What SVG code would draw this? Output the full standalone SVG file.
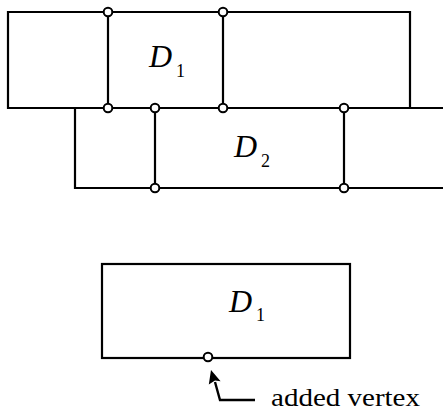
<svg xmlns="http://www.w3.org/2000/svg" width="443" height="410" viewBox="0 0 443 410">
<rect width="443" height="410" fill="#fff"/>
<g id="connectors" fill="none" stroke="#000" stroke-width="2.2" stroke-linecap="square">
<path d="M8,12H410V108H8Z"/>
<path d="M108,12V108M223,12V108"/>
<path d="M75,108V188H444M75,108H444"/>
<path d="M155,108V188M344,108V188"/>
<rect x="102" y="264" width="248" height="94"/>
<path stroke-width="2.4" stroke-linecap="butt" d="M255,400H220L215,382"/>
<path d="M211,370L220.6,381.2L215,380.5L208.8,384.6Z" fill="#000" stroke="none"/>
</g>
<g id="face-D1">
<text font-family="Liberation Serif" font-style="italic" font-size="32" x="149" y="67">D</text>
<text font-family="Liberation Serif" font-size="18" x="176" y="77">1</text>
</g>
<g id="face-D2">
<text font-family="Liberation Serif" font-style="italic" font-size="32" x="234" y="157">D</text>
<text font-family="Liberation Serif" font-size="18" x="261" y="167">2</text>
</g>
<g id="face-D1-bottom">
<text font-family="Liberation Serif" font-style="italic" font-size="32" x="229" y="312">D</text>
<text font-family="Liberation Serif" font-size="18" x="256" y="321">1</text>
</g>
<g id="vertices" fill="#fff" stroke="#000" stroke-width="2">
<circle id="v1" cx="108" cy="12" r="4.3"/>
<circle id="v2" cx="223" cy="12" r="4.3"/>
<circle id="v3" cx="108" cy="108" r="4.3"/>
<circle id="v4" cx="223" cy="108" r="4.3"/>
<circle id="v5" cx="155" cy="108" r="4.3"/>
<circle id="v6" cx="344" cy="108" r="4.3"/>
<circle id="v7" cx="155" cy="188" r="4.3"/>
<circle id="v8" cx="344" cy="188" r="4.3"/>
<circle id="v9" cx="208" cy="357" r="4.3"/>
</g>
<g id="label-added-vertex">
<text font-family="Liberation Serif" font-size="25" x="271" y="406" textLength="149" lengthAdjust="spacingAndGlyphs">added vertex</text>
</g>
</svg>
